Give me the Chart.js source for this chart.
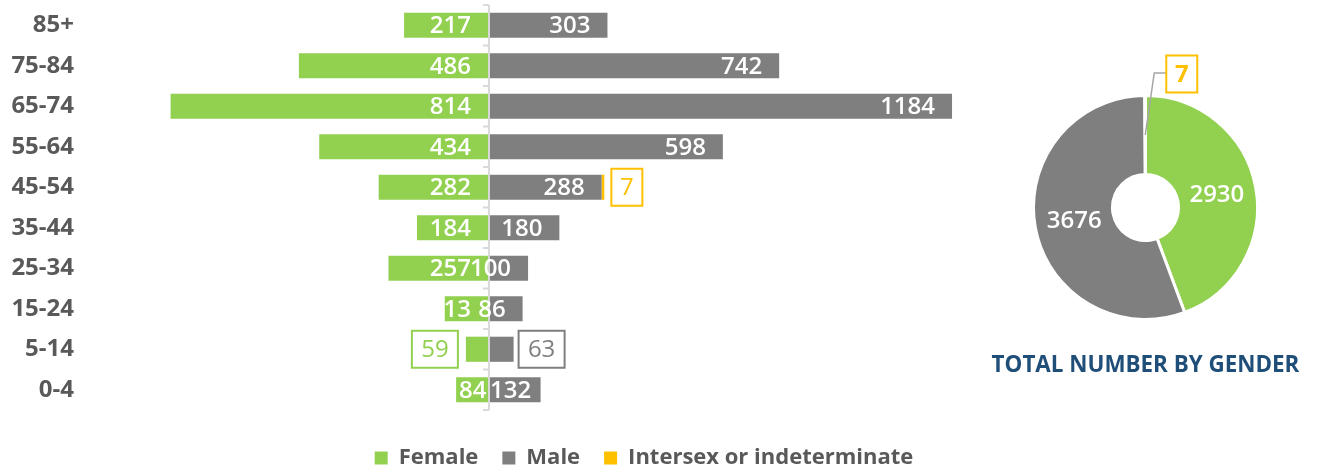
<!DOCTYPE html>
<html>
<head>
<meta charset="utf-8">
<script src="https://cdn.jsdelivr.net/npm/chart.js@4.4.1/dist/chart.umd.min.js"></script>
<style>
  html, body { margin: 0; padding: 0; background: #fff; }
  #wrap { position: relative; width: 1317px; height: 470px; }
  #pyramid { position: absolute; left: 0; top: 0; }
  #gender { position: absolute; left: 990px; top: 0; }
</style>
</head>
<body>
<div id="wrap">
  <canvas id="pyramid" width="1317" height="470"></canvas>
  <canvas id="gender" width="327" height="400"></canvas>
</div>
<script>
// age groups, top row first
const ageGroups = ['85+', '75-84', '65-74', '55-64', '45-54', '35-44', '25-34', '15-24', '5-14', '0-4'];
const female = [217, 486, 814, 434, 282, 184, 257, 113, 59, 84];
const male = [303, 742, 1184, 598, 288, 180, 100, 86, 63, 132];
const intersex = [0, 0, 0, 0, 7, 0, 0, 0, 0, 0];

const genderLabels = ['Female', 'Male', 'Intersex or indeterminate'];
const genderTotals = [2930, 3676, 7];
const genderTitle = 'TOTAL NUMBER BY GENDER';

const GREEN = '#92d050';
const GREY = '#7f7f7f';
const ORANGE = '#ffc000';
const TEXT = '#595959';
const NAVY = '#1f4e79';
const FONT = '"Open Sans", "DejaVu Sans", sans-serif';

// values this small get a boxed label outside the bar
const SMALL = 70;

function boxLabel(ctx, text, x, yMid, w, h, color, weight) {
  ctx.save();
  ctx.fillStyle = '#fff';
  ctx.fillRect(x, yMid - h / 2, w, h);
  ctx.strokeStyle = color;
  ctx.lineWidth = 2;
  ctx.strokeRect(x, yMid - h / 2, w, h);
  ctx.fillStyle = color;
  ctx.font = (weight || '400') + ' 24px ' + FONT;
  ctx.textAlign = 'center';
  ctx.textBaseline = 'middle';
  ctx.fillText(text, x + w / 2, yMid + 1);
  ctx.restore();
}

const pyramidDecor = {
  id: 'pyramidDecor',
  afterDatasetsDraw(chart) {
    const ctx = chart.ctx;
    const xs = chart.scales.x, ys = chart.scales.y;
    const zero = xs.getPixelForValue(0);
    const half = (ys.getPixelForValue(1) - ys.getPixelForValue(0)) / 2;

    ctx.save();
    // centre axis with small ticks between the age groups
    ctx.strokeStyle = '#d9d9d9';
    ctx.lineWidth = 2;
    ctx.beginPath();
    ctx.moveTo(zero, ys.getPixelForValue(0) - half);
    ctx.lineTo(zero, ys.getPixelForValue(ageGroups.length - 1) + half);
    for (let i = 0; i <= ageGroups.length; i++) {
      const yy = ys.getPixelForValue(i) - half;
      ctx.moveTo(zero - 6, yy);
      ctx.lineTo(zero, yy);
    }
    ctx.stroke();

    ctx.font = '600 24px ' + FONT;
    ctx.textBaseline = 'middle';
    ctx.textAlign = 'right';

    chart.getDatasetMeta(0).data.forEach((bar, i) => {
      const v = female[i];
      if (!v) return;
      if (v < SMALL) {
        boxLabel(ctx, v, bar.x - 8 - 46, bar.y, 46, 37, GREEN);
        return;
      }
      let right = bar.base - 18;
      // short bars: keep the label inside the bar
      if (bar.base - bar.x < 40) right = bar.x + ctx.measureText(String(v)).width + 3;
      ctx.fillStyle = '#fff';
      ctx.fillText(v, right, bar.y + 1);
    });
    chart.getDatasetMeta(1).data.forEach((bar, i) => {
      const v = male[i];
      if (!v) return;
      if (v < SMALL) {
        boxLabel(ctx, v, bar.x + 5, bar.y, 46, 37, GREY);
        return;
      }
      const w = ctx.measureText(String(v)).width;
      let right = bar.x - 17;
      // label fits but would cross the axis: start it at the axis
      if (right - w < bar.base && w + 10 <= bar.x - bar.base) right = bar.base + 1 + w;
      ctx.fillStyle = '#fff';
      ctx.fillText(v, right, bar.y + 1);
    });
    chart.getDatasetMeta(2).data.forEach((bar, i) => {
      const v = intersex[i];
      if (!v) return;
      boxLabel(ctx, v, bar.x + 7, bar.y, 31, 37, ORANGE);
    });
    ctx.restore();
  }
};

const legendPad = 24;

new Chart(document.getElementById('pyramid'), {
  type: 'bar',
  data: {
    labels: ageGroups,
    datasets: [
      { label: genderLabels[0], data: female.map(v => -v), backgroundColor: GREEN },
      { label: genderLabels[1], data: male, backgroundColor: GREY },
      { label: genderLabels[2], data: intersex, backgroundColor: ORANGE },
    ],
  },
  options: {
    indexAxis: 'y',
    responsive: false,
    animation: false,
    events: [],
    layout: { autoPadding: false, padding: { top: 5, right: 29, bottom: -9, left: 0 } },
    datasets: { bar: { barPercentage: 0.62, categoryPercentage: 1 } },
    scales: {
      x: {
        stacked: true,
        min: -1061,
        max: 2043,
        grid: { display: false, drawTicks: false },
        border: { display: false },
        ticks: { display: false },
        afterFit: s => { s.height = 37 - legendPad; },
      },
      y: {
        stacked: true,
        grid: { display: false, drawTicks: false },
        border: { display: false },
        // tiny lineHeight so the labels do not push the plot area down
        ticks: { color: TEXT, padding: 0, font: { family: FONT, size: 24, weight: 'bold', lineHeight: 0.3 } },
        afterFit: s => { s.width = 74; },
      },
    },
    plugins: {
      tooltip: { enabled: false },
      legend: {
        position: 'bottom',
        labels: {
          boxWidth: 13,
          boxHeight: 13,
          padding: legendPad,
          color: TEXT,
          font: { family: FONT, size: 22, weight: 'bold' },
        },
      },
    },
  },
  plugins: [pyramidDecor],
});

const genderDecor = {
  id: 'genderDecor',
  afterDatasetsDraw(chart) {
    const ctx = chart.ctx;
    const arcs = chart.getDatasetMeta(0).data;
    ctx.save();
    ctx.font = '600 24px ' + FONT;
    ctx.textAlign = 'center';
    ctx.textBaseline = 'middle';
    ctx.fillStyle = '#fff';
    [0, 1].forEach(i => {
      const p = arcs[i].getCenterPoint();
      ctx.fillText(genderTotals[i], p.x, p.y + 1);
    });
    // title under the ring (drawn here so it is not squeezed to the chart width)
    const { left, right, bottom } = chart.chartArea;
    ctx.fillStyle = NAVY;
    ctx.font = 'bold 22.4px ' + FONT;
    ctx.fillText(genderTitle, (left + right) / 2, bottom + 45);

    // leader line to the tiny intersex slice
    const p = arcs[2].getCenterPoint();
    ctx.strokeStyle = '#a6a6a6';
    ctx.lineWidth = 1.5;
    ctx.beginPath();
    ctx.moveTo(p.x, p.y);
    ctx.lineTo(p.x + 9, p.y - 62);
    ctx.lineTo(p.x + 21, p.y - 62);
    ctx.stroke();
    ctx.restore();
    boxLabel(ctx, genderTotals[2], p.x + 21, p.y - 61, 31, 37, ORANGE, '700');
  }
};

new Chart(document.getElementById('gender'), {
  type: 'doughnut',
  data: {
    labels: genderLabels,
    datasets: [{
      data: genderTotals,
      backgroundColor: [GREEN, GREY, ORANGE],
      borderColor: '#fff',
      borderWidth: 3,
      offset: 0,
      hoverOffset: 0,
    }],
  },
  options: {
    responsive: false,
    animation: false,
    events: [],
    cutout: '29.5%',
    layout: { padding: { top: 94, right: 58, bottom: 79, left: 42 } },
    plugins: {
      tooltip: { enabled: false },
      legend: { display: false },
    },
  },
  plugins: [genderDecor],
});
</script>
</body>
</html>
